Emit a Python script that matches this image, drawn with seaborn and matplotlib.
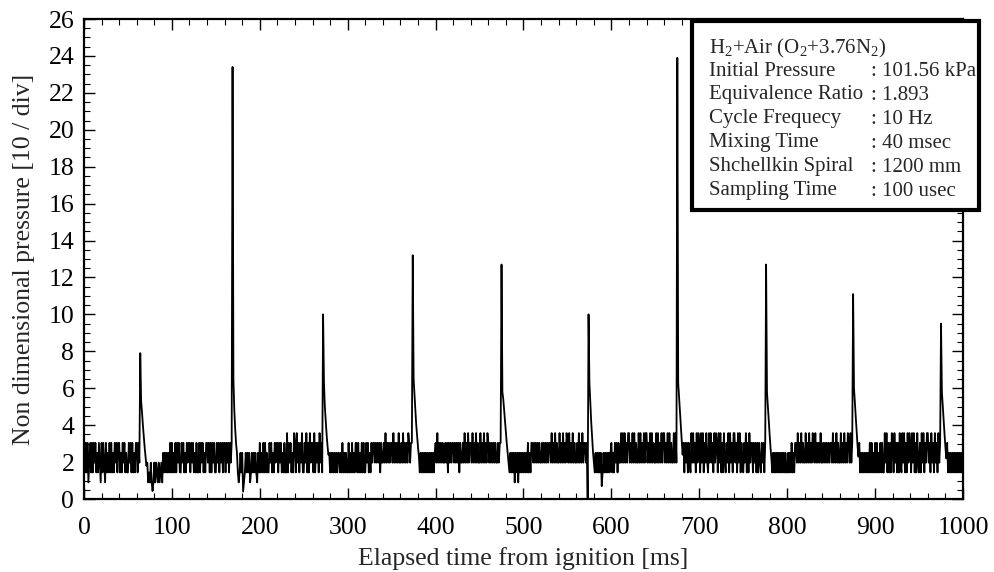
import numpy as np
import matplotlib
matplotlib.use("Agg")
import matplotlib.pyplot as plt
from matplotlib.patches import Rectangle
from matplotlib.ticker import MultipleLocator
import seaborn as sns

# ---------------- data ----------------
levels = [0.90, 1.44, 1.97, 2.50, 3.04, 3.57]

# baseline trace, one level code per millisecond (chunks of 10 ms)
trace_codes = (
    "4141402414 1424131420 4142041314 1413142414 4131424131 1424141314 4142411111 1020102020 2021020120 3131313141 "
    "4131414241 1424131424 4142413141 1414241314 4241414241 1424142414 4142414244 4444410131 3101313130 1313131031 "
    "4131414131 1424131424 4142413141 1514241315 4152414251 1425141524 4151424152 4144444443 1313131313 3131413131 "
    "1413141314 4141314141 1424131424 4242424142 2425242424 4252424252 2425242425 4244444444 4413131313 1313131313 "
    "4252424242 2424142424 4242424142 2425242524 4252425242 2524252425 4242424242 2424444444 4444131313 0313031313 "
    "1313141314 4242424242 2424242424 4252425242 2524252425 4252425242 2425242524 4240444444 4131313130 1313131313 "
    "4131424142 2525252425 5242525242 2525242525 5242525242 2525242525 5242525242 2525244444 4441424142 1525241525 "
    "4152514252 1525241525 4152514152 1425152415 5241525142 1425141524 4142414142 1424144444 4441313131 3131313131 "
    "1313141314 4252425242 2524252425 4252424252 2424242424 4252425242 2524252425 4252444444 4441313131 3131414131 "
    "4141314141 1525141415 4152414152 1525141525 4152514152 1415251425 5241524152 4152444444 4441313131 3131313131 "
    "3"
)

# detonation pressure peaks [ms] and their heights
peak_times = [64, 169, 272, 374, 475, 574, 675, 776, 875, 975]
peak_values = [7.9, 23.4, 10.0, 13.2, 12.7, 10.0, 23.9, 12.7, 11.1, 9.5]
# decay after each peak, one value per ms
decay_values = [
    [5.3, 4.7, 4.0, 3.4, 2.8, 2.3, 1.8],
    [6.5, 4.8, 3.8, 3.0, 2.5],
    [6.3, 5.0, 4.2, 3.5, 2.9, 2.4],
    [6.5, 5.6, 4.8, 4.0, 3.4, 2.8, 2.3],
    [5.8, 5.4, 4.8, 4.2, 3.6, 3.0, 2.5, 2.0],
    [6.3, 5.2, 4.2, 3.4, 2.6, 2.0],
    [6.3, 5.5, 4.6, 3.8, 3.0, 2.4],
    [5.8, 5.0, 4.2, 3.5, 2.8, 2.2],
    [6.0, 5.2, 4.4, 3.6, 2.9, 2.3],
    [5.8, 5.0, 4.2, 3.5, 2.8, 2.2],
]
# isolated deep dips
dip_times = [78, 181, 573, 589]
dip_values = [0.43, 0.40, 0.0, 0.70]

x_ticks = [0, 100, 200, 300, 400, 500, 600, 700, 800, 900, 1000]
y_ticks = [0, 2, 4, 6, 8, 10, 12, 14, 16, 18, 20, 22, 24, 26]

info_labels = ["Initial Pressure", "Equivalence Ratio", "Cycle Frequecy",
               "Mixing Time", "Shchellkin Spiral", "Sampling Time"]
info_values = [": 101.56 kPa", ": 1.893", ": 10 Hz", ": 40 msec",
               ": 1200 mm", ": 100 usec"]
info_title = r"H$_2$+Air (O$_2$+3.76N$_2$)"

# ---------------- build trace ----------------
codes = trace_codes.replace(" ", "")
pressure = np.array([levels[int(c)] for c in codes], dtype=float)
time_ms = np.arange(len(pressure), dtype=float)
for tp, vp, dec in zip(peak_times, peak_values, decay_values):
    pressure[tp] = vp
    for k, v in enumerate(dec):
        pressure[tp + 1 + k] = v
for td, vd in zip(dip_times, dip_values):
    pressure[td] = vd

# ---------------- style ----------------
sns.set_theme(style="ticks")
plt.rcParams["font.family"] = ["Liberation Serif", "DejaVu Serif"]
plt.rcParams["mathtext.fontset"] = "custom"
plt.rcParams["mathtext.rm"] = "Liberation Serif"
plt.rcParams["mathtext.it"] = "Liberation Serif:italic"

W, H = 995, 572
fig = plt.figure(figsize=(W / 100, H / 100), dpi=100)
ax_l, ax_r, ax_t, ax_b = 84, 963, 19, 499
ax = fig.add_axes([ax_l / W, 1 - ax_b / H, (ax_r - ax_l) / W, (ax_b - ax_t) / H])

sns.lineplot(x=time_ms, y=pressure, ax=ax, color="black", linewidth=1.3,
             estimator=None, sort=False)

ax.set_xlim(0, 1000)
ax.set_ylim(0, 26)
ax.set_xticks(x_ticks)
ax.set_xticklabels([str(v) for v in x_ticks])
ax.set_yticks(y_ticks)
ax.set_yticklabels([str(v) for v in y_ticks])
ax.xaxis.set_minor_locator(MultipleLocator(20))
ax.yaxis.set_minor_locator(MultipleLocator(0.5))
ax.tick_params(which="both", direction="in", top=True, right=True,
               labelsize=18.5, colors="black")
ax.tick_params(axis="x", pad=13)
ax.tick_params(axis="y", pad=7)
ax.tick_params(which="major", length=8, width=1.0)
ax.tick_params(which="minor", length=4, width=0.8)
for s in ax.spines.values():
    s.set_linewidth(1.6)
    s.set_color("black")

ax.set_xlabel("Elapsed time from ignition [ms]", fontsize=18.5, labelpad=6)
ax.set_ylabel("Non dimensional pressure [10 / div]", fontsize=18.5, labelpad=10)

# info box
def px2ax(xp, yp):
    return ((xp - ax_l) / (ax_r - ax_l), (ax_b - yp) / (ax_b - ax_t))

bx0, by0 = px2ax(692, 210)
bx1, by1 = px2ax(979, 21)
box = Rectangle((bx0, by0), bx1 - bx0, by1 - by0, transform=ax.transAxes,
                facecolor="white", edgecolor="black", linewidth=3.0,
                clip_on=False, zorder=5)
ax.add_patch(box)

line_y = [48, 72, 95, 119, 143, 167, 191]
fig.text(709 / W, 1 - line_y[0] / H, info_title, fontsize=15, va="center",
         ha="left", zorder=6)
for i, (lab, val) in enumerate(zip(info_labels, info_values)):
    yy = 1 - line_y[i + 1] / H
    fig.text(709 / W, yy, lab, fontsize=15, va="center", ha="left", zorder=6)
    fig.text(871 / W, yy, val, fontsize=15, va="center", ha="left", zorder=6)

fig.savefig("out.png", dpi=100)
